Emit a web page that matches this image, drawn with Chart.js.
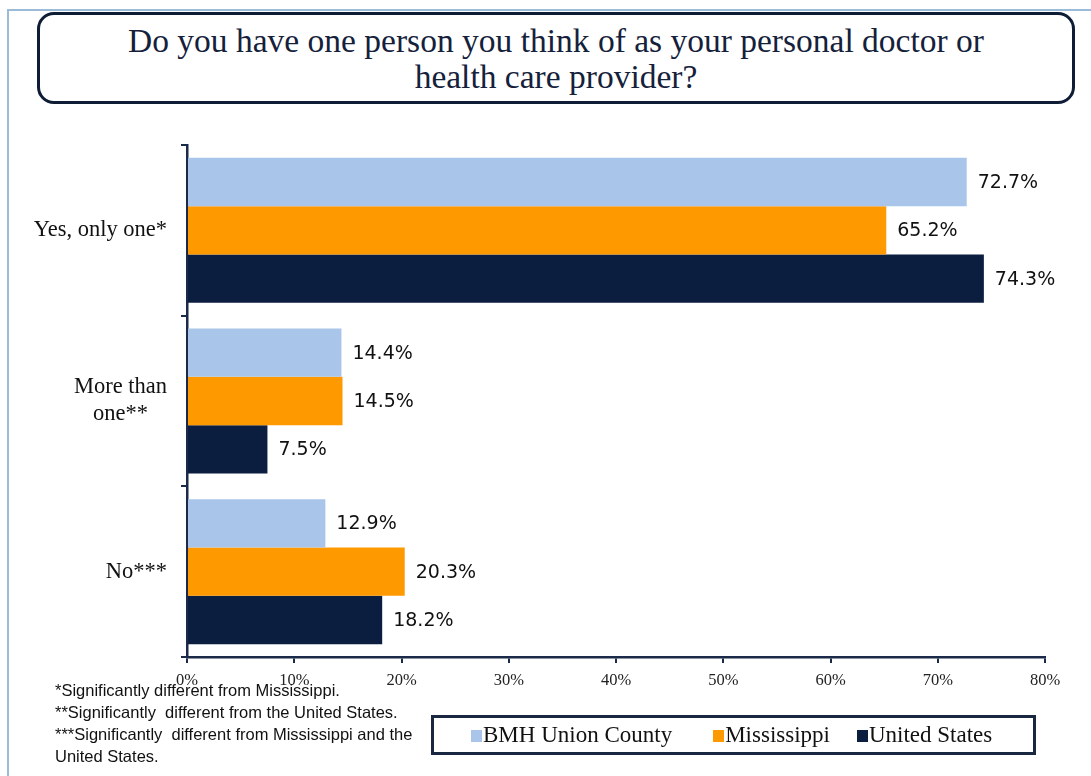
<!DOCTYPE html>
<html lang="en">
<head>
    <meta charset="UTF-8">
    <title>Personal doctor or health care provider</title>
    <script src="https://cdn.jsdelivr.net/npm/chart.js"></script>
    <style>
        body {
            margin: 0;
            background-color: #ffffff;
        }
        #pagina {
            position: relative;
            width: 1091px;
            height: 776px;
            overflow: hidden;
        }
        #moldura {
            position: absolute;
            left: 7px;
            top: 9px;
            width: 1100px;
            height: 800px;
            border-left: 2px solid #9cbbd9;
            border-top: 2px solid #9cbbd9;
        }
        #titulo {
            position: absolute;
            left: 37px;
            top: 12px;
            width: 1032px;
            height: 78px;
            border: 3px solid #0e1c36;
            border-radius: 17px;
            font-family: 'Liberation Serif', serif;
            font-size: 33.5px;
            line-height: 36px;
            color: #15213b;
            text-align: center;
            padding-top: 8px;
            box-sizing: content-box;
        }
        #grafico {
            position: absolute;
            left: 0;
            top: 0;
        }
        #notas {
            position: absolute;
            left: 55px;
            top: 679px;
            font-family: 'Liberation Sans', Arial, sans-serif;
            font-size: 16.5px;
            line-height: 22px;
            color: #111;
        }
        #legenda {
            position: absolute;
            left: 431px;
            top: 715px;
            width: 562px;
            height: 34px;
            padding-left: 37px;
            border: 3px solid #1a2740;
            display: flex;
            align-items: center;
            justify-content: flex-start;
            font-family: 'Liberation Serif', serif;
            font-size: 23px;
            color: #111;
        }
        #legenda span.caixa {
            display: inline-block;
            width: 11px;
            height: 12px;
            margin-right: 1px;
        }
    </style>
</head>
<body>
<div id="pagina">
    <div id="moldura"></div>
    <div id="titulo">Do you have one person you think of as your personal doctor or<br>health care provider?</div>
    <canvas id="grafico" width="1091" height="776"></canvas>
    <div id="notas"></div>
    <div id="legenda"></div>
</div>

<script>
    // dados
    const categorias = [['Yes, only one*'], ['More than', 'one**'], ['No***']];
    const bmhUnion = [72.7, 14.4, 12.9];
    const mississippi = [65.2, 14.5, 20.3];
    const estadosUnidos = [74.3, 7.5, 18.2];
    const series = ['BMH Union County', 'Mississippi', 'United States'];
    const cores = ['#a9c5ea', '#ff9900', '#0b1e3f'];
    const notas = [
        '*Significantly different from Mississippi.',
        '**Significantly &nbsp;different from the United States.',
        '***Significantly &nbsp;different from Mississippi and the',
        'United States.'
    ];

    document.getElementById('notas').innerHTML = notas.join('<br>');
    const espacos = [41, 27, 0];
    document.getElementById('legenda').innerHTML = series.map(function (s, i) {
        return '<div style="margin-right:' + espacos[i] + 'px"><span class="caixa" style="background:' + cores[i] + '"></span>' + s + '</div>';
    }).join('');

    const corEixo = '#1b2a48';

    // rótulos das categorias (linhas centralizadas, bloco alinhado à direita)
    const rotulosY = {
        id: 'rotulosY',
        afterDraw(chart) {
            const ctx = chart.ctx;
            const y = chart.scales.y;
            ctx.save();
            ctx.font = '22.5px "Liberation Serif", serif';
            ctx.fillStyle = '#111';
            ctx.textAlign = 'center';
            ctx.textBaseline = 'middle';
            categorias.forEach(function (linhas, i) {
                const largura = Math.max.apply(null, linhas.map(l => ctx.measureText(l).width));
                const centro = 167 - largura / 2;
                const py = y.getPixelForValue(i);
                const alt = 27;
                linhas.forEach(function (l, j) {
                    ctx.fillText(l, centro, py + (j - (linhas.length - 1) / 2) * alt);
                });
            });
            ctx.restore();
        }
    };

    // valores ao lado das barras
    const rotulosValor = {
        id: 'rotulosValor',
        afterDatasetsDraw(chart) {
            const ctx = chart.ctx;
            ctx.save();
            ctx.font = '19px "DejaVu Sans", sans-serif';
            ctx.fillStyle = '#111';
            ctx.textAlign = 'left';
            ctx.textBaseline = 'middle';
            chart.data.datasets.forEach(function (ds, i) {
                chart.getDatasetMeta(i).data.forEach(function (barra, j) {
                    ctx.fillText(ds.data[j].toFixed(1) + '%', barra.x + 11, barra.y + 1);
                });
            });
            ctx.restore();
        }
    };

    const ctx = document.getElementById('grafico').getContext('2d');
    const grafico = new Chart(ctx, {
        type: 'bar',
        data: {
            labels: categorias,
            datasets: [
                { label: series[0], data: bmhUnion, backgroundColor: cores[0] },
                { label: series[1], data: mississippi, backgroundColor: cores[1] },
                { label: series[2], data: estadosUnidos, backgroundColor: cores[2] }
            ]
        },
        options: {
            indexAxis: 'y',
            responsive: false,
            animation: false,
            layout: {
                padding: { top: 145, right: 46, bottom: 79, left: 0 }
            },
            datasets: {
                bar: { categoryPercentage: 0.85, barPercentage: 1.0 }
            },
            plugins: {
                legend: { display: false },
                title: { display: false },
                tooltip: { enabled: false }
            },
            scales: {
                x: {
                    min: 0,
                    max: 80,
                    ticks: {
                        stepSize: 10,
                        callback: v => v + '%',
                        font: { family: 'Liberation Serif', size: 16.5 },
                        color: '#222',
                        padding: 8
                    },
                    grid: { drawOnChartArea: false, drawTicks: true, tickLength: 6, color: corEixo, lineWidth: 2 },
                    border: { color: corEixo, width: 2.5 },
                    afterFit(scale) { scale.height = 40; }
                },
                y: {
                    ticks: { display: false },
                    grid: { drawOnChartArea: false, drawTicks: true, tickLength: 6, color: corEixo, lineWidth: 2 },
                    border: { color: corEixo, width: 2.5 },
                    afterFit(scale) { scale.width = 187; }
                }
            }
        },
        plugins: [rotulosY, rotulosValor]
    });
</script>
</body>
</html>
